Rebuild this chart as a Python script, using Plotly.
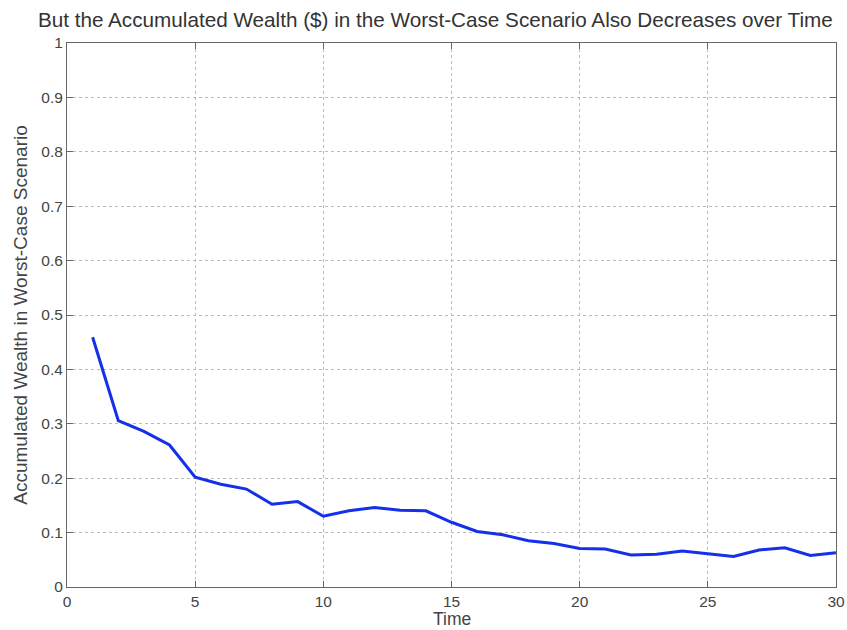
import plotly.graph_objects as go

time = list(range(1, 31))
wealth = [0.459, 0.306, 0.286, 0.261, 0.202, 0.189, 0.180, 0.152, 0.157, 0.130,
          0.140, 0.146, 0.141, 0.140, 0.119, 0.102, 0.096, 0.085, 0.080, 0.071,
          0.070, 0.059, 0.060, 0.066, 0.061, 0.056, 0.068, 0.072, 0.058, 0.063]

x_ticks = [0, 5, 10, 15, 20, 25, 30]
y_ticks = [0, 0.1, 0.2, 0.3, 0.4, 0.5, 0.6, 0.7, 0.8, 0.9, 1]
y_tick_text = ["0", "0.1", "0.2", "0.3", "0.4", "0.5", "0.6", "0.7", "0.8", "0.9", "1"]

fam = "Liberation Sans, Arial, sans-serif"
tick_font = dict(family=fam, size=15.5, color="#444444")
label_font = dict(family=fam, size=19, color="#444444")
axis_common = dict(showline=True, linecolor="#666666", linewidth=1, mirror="ticks",
                   ticks="inside", ticklen=6, tickcolor="#666666",
                   showgrid=True, gridcolor="#bbbbbb", griddash="dot", gridwidth=1,
                   zeroline=False, tickfont=tick_font, automargin=False)

fig = go.Figure()
fig.add_trace(go.Scatter(x=time, y=wealth, mode="lines",
                         line=dict(color="#1530e8", width=3)))

fig.update_layout(
    width=847, height=630,
    paper_bgcolor="white", plot_bgcolor="white",
    margin=dict(l=67, r=11, t=43, b=43),
    showlegend=False,
    title=dict(text="But the Accumulated Wealth ($) in the Worst-Case Scenario Also Decreases over Time",
               x=0.514, xanchor="center", y=0.968, yanchor="middle",
               font=dict(family=fam, size=20.7, color="#333333")),
    xaxis=dict(range=[0, 30], tickvals=x_ticks, ticklabelstandoff=0, **axis_common),
    yaxis=dict(range=[0, 1], tickvals=y_ticks, ticktext=y_tick_text,
               title=dict(text="Accumulated Wealth in Worst-Case Scenario", font=label_font, standoff=8),
               **axis_common),
    annotations=[dict(text="Time", xref="paper", yref="paper", x=0.5, y=0,
                      xanchor="center", yanchor="middle", yshift=-32, showarrow=False,
                      borderpad=0, font=dict(family=fam, size=17.5, color="#444444"))],
)

fig.write_html("out.html", post_script="document.body.style.margin='0';",
               config={"displayModeBar": False})
